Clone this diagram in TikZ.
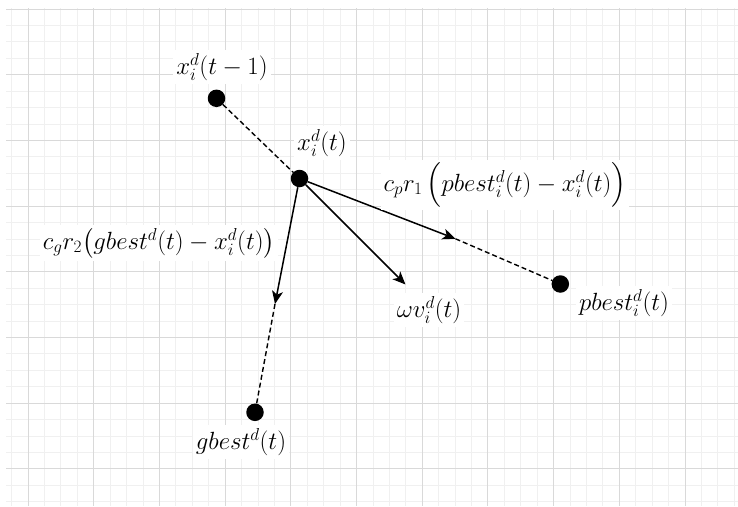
\documentclass[tikz,border=0pt]{standalone}
\usepackage{amsmath}
\usetikzlibrary{arrows.meta}
\begin{document}
\begin{tikzpicture}[x=1pt,y=-1pt,
  minorline/.style={draw=black!6,line width=0.9pt},
  majorline/.style={draw=black!15,line width=1pt},
  dot/.style={circle,fill=black,inner sep=0pt,minimum size=17.5pt},
  lbl/.style={fill=white,inner sep=3pt,font=\fontsize{23}{27}\selectfont},
  vec/.style={line width=1.5pt,-{Stealth[length=13pt,width=11pt,inset=3.5pt]}},
  dashline/.style={line width=1.4pt,dash pattern=on 5pt off 3pt}]
\useasboundingbox (0,0) rectangle (738,506);
\fill[white] (0,0) rectangle (738,506);
% grid
\foreach \j in {0,...,44} \draw[minorline] ({11.6+16.425*\j},8) -- ({11.6+16.425*\j},506);
\foreach \j in {0,...,30} \draw[minorline] (6,{9+16.425*\j}) -- (738,{9+16.425*\j});
\foreach \k in {0,...,10} \draw[majorline] ({28+65.7*\k},8) -- ({28+65.7*\k},506);
\foreach \k in {0,...,7} \draw[majorline] (6,{9+65.7*\k}) -- (738,{9+65.7*\k});
% points
\node[dot] (A) at (216.5,98.3) {};
\node[dot] (B) at (299.5,178.5) {};
\node[dot] (P) at (560.3,284) {};
\node[dot] (G) at (255,412.3) {};
\coordinate (tp) at (455.5,238.8);
\coordinate (tw) at (405.5,284.5);
\coordinate (tg) at (275,304);
% connectors
\draw[dashline] (A) -- (B);
\draw[dashline] (tp) -- (P);
\draw[dashline] (tg) -- (G);
\draw[vec] (B) -- (tp);
\draw[vec] (B) -- (tw);
\draw[vec] (B) -- (tg);
% labels
\node[lbl] (lA) at (222,67) {$x_i^d(t-1)$};
\node[lbl] (lB) at (322,143) {$x_i^d(t)$};
\node[lbl] (lp) at (505,185) {$c_p r_1\,\Bigl(pbest_i^d(t)-x_i^d(t)\Bigr)$};
\node[lbl] (lg) at (159,243) {$c_g r_2\bigl(gbest^d(t)-x_i^d(t)\bigr)$};
\node[lbl] (lw) at (429,310) {$\omega v_i^d(t)$};
\node[lbl] (lP) at (624,303) {$pbest_i^d(t)$};
\node[lbl] (lG) at (241,442) {$gbest^d(t)$};
\end{tikzpicture}
\end{document}
